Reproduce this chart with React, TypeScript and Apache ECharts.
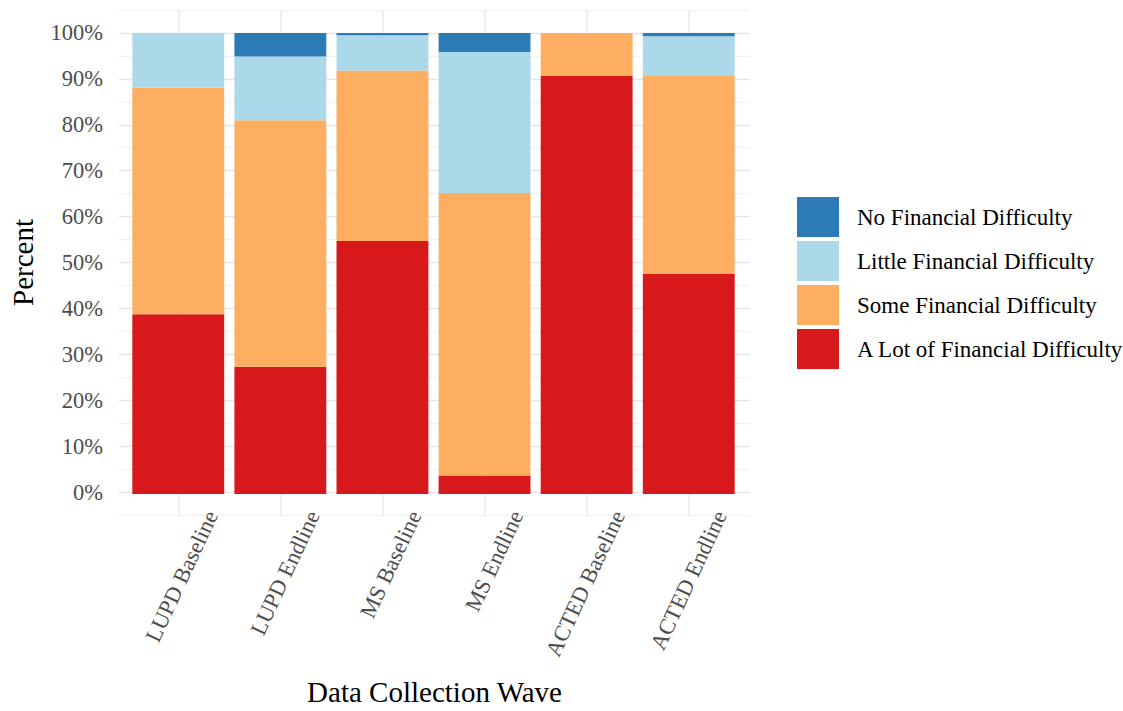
import React, { useEffect, useRef } from "react";
import * as echarts from "echarts";

const categories = [
  "LUPD Baseline",
  "LUPD Endline",
  "MS Baseline",
  "MS Endline",
  "ACTED Baseline",
  "ACTED Endline",
];
const seriesNames = [
  "No Financial Difficulty",
  "Little Financial Difficulty",
  "Some Financial Difficulty",
  "A Lot of Financial Difficulty",
];
const aLotValues = [39.0, 27.6, 54.9, 4.0, 90.7, 47.7];
const someValues = [49.2, 53.5, 37.0, 61.3, 9.3, 43.0];
const littleValues = [11.8, 13.8, 7.6, 30.6, 0, 8.6];
const noValues = [0, 5.1, 0.5, 4.1, 0, 0.7];
const yTickValues = [0, 10, 20, 30, 40, 50, 60, 70, 80, 90, 100];

const colors = {
  no: "#2C7BB6",
  little: "#ABD9E9",
  some: "#FDAE61",
  aLot: "#D7191C",
};

const FONT = "'Liberation Serif', 'Times New Roman', serif";
const LABEL_SHIFT = 0.31;

// panel geometry (ggplot-like expansion of 0.6 category units on each side)
const PANEL_LEFT = 117;
const PANEL_WIDTH = 633;
const PANEL_TOP = 10;
const PANEL_HEIGHT = 507;
const UNIT = PANEL_WIDTH / 6.2;

export default function App() {
  const ref = useRef<HTMLDivElement>(null);
  useEffect(() => {
    if (!ref.current) return;
    const chart = echarts.init(ref.current, undefined, { renderer: "svg" });
    const bar = (name: string, vals: number[], color: string) => ({
      name,
      type: "bar",
      stack: "total",
      xAxisIndex: 1,
      yAxisIndex: 1,
      barCategoryGap: "10%",
      itemStyle: { color },
      data: vals,
    });
    const yRange = { min: -5, max: 105 };
    chart.setOption({
      animation: false,
      backgroundColor: "#ffffff",
      grid: [
        { left: PANEL_LEFT, top: PANEL_TOP, width: PANEL_WIDTH, height: PANEL_HEIGHT, containLabel: false },
        {
          left: PANEL_LEFT + UNIT * 0.1,
          top: PANEL_TOP,
          width: UNIT * 6,
          height: PANEL_HEIGHT,
          containLabel: false,
        },
        {
          left: PANEL_LEFT + UNIT * 0.6,
          top: PANEL_TOP,
          width: UNIT * 5,
          height: PANEL_HEIGHT,
          containLabel: false,
        },
      ],
      legend: {
        orient: "vertical",
        left: 797,
        top: 197,
        padding: 0,
        itemWidth: 42,
        itemHeight: 40,
        itemGap: 4,
        icon: "rect",
        data: seriesNames,
        textStyle: {
          fontFamily: FONT,
          fontSize: 23,
          color: "#000000",
          padding: [0, 0, 0, 13],
        },
      },
      xAxis: [
        {
          gridIndex: 0,
          type: "value",
          min: 0.4,
          max: 6.6,
          axisLine: { show: false },
          axisTick: { show: false },
          splitLine: { show: false },
          axisLabel: {
            customValues: categories.map((_, i) => i + 1 + LABEL_SHIFT),
            formatter: (v: number) => categories[Math.round(v - LABEL_SHIFT) - 1] ?? "",
            rotate: 65,
            margin: -3,
            fontFamily: FONT,
            fontSize: 22.5,
            color: "#4d4d4d",
          },
          name: "Data Collection Wave",
          nameLocation: "middle",
          nameGap: 162,
          nameTextStyle: { fontFamily: FONT, fontSize: 29, color: "#000000" },
        },
        {
          gridIndex: 1,
          type: "category",
          data: categories,
          show: false,
        },
        {
          gridIndex: 2,
          type: "value",
          min: 1,
          max: 6,
          interval: 1,
          axisLine: { show: false },
          axisTick: { show: false },
          axisLabel: { show: false },
          splitLine: { show: true, lineStyle: { color: "#ebebeb", width: 1.5 } },
        },
      ],
      yAxis: [
        {
          gridIndex: 0,
          type: "value",
          ...yRange,
          interval: 5,
          axisLine: { show: false },
          axisTick: { show: false },
          splitLine: {
            show: true,
            lineStyle: { color: ["#f2f2f2", "#e6e6e6"], width: 1.3 },
          },
          axisLabel: {
            margin: 16,
            fontFamily: FONT,
            fontSize: 22.5,
            color: "#4d4d4d",
            formatter: (v: number) =>
              yTickValues.indexOf(Math.round(v)) >= 0 && Math.abs(v - Math.round(v)) < 1e-6
                ? Math.round(v) + "%"
                : "",
          },
          name: "Percent",
          nameLocation: "middle",
          nameRotate: 90,
          nameGap: 82,
          nameTextStyle: { fontFamily: FONT, fontSize: 29, color: "#000000" },
        },
        { gridIndex: 1, type: "value", ...yRange, show: false, splitLine: { show: false } },
        { gridIndex: 2, type: "value", ...yRange, show: false, splitLine: { show: false } },
      ],
      series: [
        bar(seriesNames[3], aLotValues, colors.aLot),
        bar(seriesNames[2], someValues, colors.some),
        bar(seriesNames[1], littleValues, colors.little),
        bar(seriesNames[0], noValues, colors.no),
      ],
    });
    return () => chart.dispose();
  }, []);
  return (
    <div
      ref={ref}
      style={{ position: "fixed", left: 0, top: 0, width: 1123, height: 711 }}
    />
  );
}
